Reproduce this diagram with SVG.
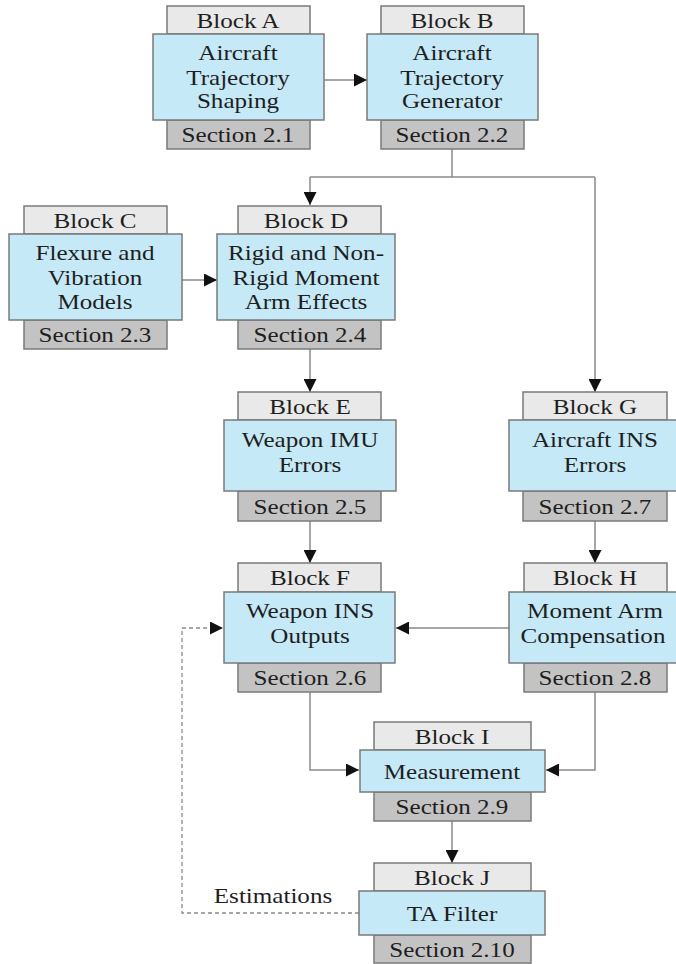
<svg xmlns="http://www.w3.org/2000/svg" width="676" height="964" viewBox="0 0 676 964">
<style>
.hd{fill:#e9e9e9;stroke:#7a7a7a;stroke-width:1.5}
.bl{fill:#c6e9f7;stroke:#7a7a7a;stroke-width:1.5}
.sc{fill:#c3c3c3;stroke:#7a7a7a;stroke-width:1.5}
text{font-family:"Liberation Serif","Times New Roman",serif;font-size:22px;fill:#1e1e1e;text-anchor:middle}
.ln{fill:none;stroke:#8a8a8a;stroke-width:1.5}
.ds{fill:none;stroke:#8a8a8a;stroke-width:1.3;stroke-dasharray:4,3}
</style>
<defs>
<marker id="ah" markerWidth="13" markerHeight="13" viewBox="0 0 13 13" refX="13" refY="6.5" orient="auto" markerUnits="userSpaceOnUse">
<path d="M0,0 L13,6.5 L0,13 Z" fill="#111"/>
</marker>
</defs>
<rect width="676" height="964" fill="#fff"/>
<g id="connectors">
<path class="ln" d="M324,80 H367" marker-end="url(#ah)"/>
<path class="ln" d="M452,149 V177 M310,177 H595"/>
<path class="ln" d="M310,177 V205" marker-end="url(#ah)"/>
<path class="ln" d="M595,177 V392" marker-end="url(#ah)"/>
<path class="ln" d="M182,280 H217" marker-end="url(#ah)"/>
<path class="ln" d="M310,349 V392" marker-end="url(#ah)"/>
<path class="ln" d="M310,521 V563" marker-end="url(#ah)"/>
<path class="ln" d="M595,521 V563" marker-end="url(#ah)"/>
<path class="ln" d="M509,628 H396" marker-end="url(#ah)"/>
<path class="ln" d="M310,692 V770 H359" marker-end="url(#ah)"/>
<path class="ln" d="M595,692 V770 H546" marker-end="url(#ah)"/>
<path class="ln" d="M452,821 V863" marker-end="url(#ah)"/>
<path class="ds" d="M359,913 H182 V628 H223" marker-end="url(#ah)"/>
<text transform="matrix(1.14 0 0 1 273 0)" y="903">Estimations</text>
</g>
<g id="blockA">
<rect class="hd" x="167" y="6" width="143" height="28"/>
<rect class="sc" x="167" y="120" width="143" height="29"/>
<rect class="bl" x="153" y="34" width="171" height="86"/>
<text transform="matrix(1.14 0 0 1 238 0)" y="28">Block A</text>
<text transform="matrix(1.14 0 0 1 238 0)" y="60">Aircraft</text>
<text transform="matrix(1.14 0 0 1 238 0)" y="85">Trajectory</text>
<text transform="matrix(1.14 0 0 1 238 0)" y="108">Shaping</text>
<text transform="matrix(1.14 0 0 1 238 0)" y="142">Section 2.1</text>
</g>
<g id="blockB">
<rect class="hd" x="381" y="6" width="143" height="28"/>
<rect class="sc" x="381" y="120" width="143" height="29"/>
<rect class="bl" x="367" y="34" width="171" height="86"/>
<text transform="matrix(1.14 0 0 1 452 0)" y="28">Block B</text>
<text transform="matrix(1.14 0 0 1 452 0)" y="60">Aircraft</text>
<text transform="matrix(1.14 0 0 1 452 0)" y="85">Trajectory</text>
<text transform="matrix(1.14 0 0 1 452 0)" y="108">Generator</text>
<text transform="matrix(1.14 0 0 1 452 0)" y="142">Section 2.2</text>
</g>
<g id="blockC">
<rect class="hd" x="24" y="206" width="143" height="28"/>
<rect class="sc" x="24" y="320" width="143" height="29"/>
<rect class="bl" x="9" y="234" width="173" height="86"/>
<text transform="matrix(1.14 0 0 1 95 0)" y="228">Block C</text>
<text transform="matrix(1.14 0 0 1 95 0)" y="260">Flexure and</text>
<text transform="matrix(1.14 0 0 1 95 0)" y="285">Vibration</text>
<text transform="matrix(1.14 0 0 1 95 0)" y="309">Models</text>
<text transform="matrix(1.14 0 0 1 95 0)" y="342">Section 2.3</text>
</g>
<g id="blockD">
<rect class="hd" x="238" y="206" width="143" height="28"/>
<rect class="sc" x="238" y="320" width="143" height="29"/>
<rect class="bl" x="217" y="234" width="178" height="86"/>
<text transform="matrix(1.14 0 0 1 306 0)" y="228">Block D</text>
<text transform="matrix(1.14 0 0 1 306 0)" y="260">Rigid and Non-</text>
<text transform="matrix(1.14 0 0 1 306 0)" y="285">Rigid Moment</text>
<text transform="matrix(1.14 0 0 1 306 0)" y="309">Arm Effects</text>
<text transform="matrix(1.14 0 0 1 310 0)" y="342">Section 2.4</text>
</g>
<g id="blockE">
<rect class="hd" x="238" y="392" width="143" height="28"/>
<rect class="sc" x="238" y="491" width="143" height="30"/>
<rect class="bl" x="224" y="420" width="172" height="71"/>
<text transform="matrix(1.14 0 0 1 310 0)" y="414">Block E</text>
<text transform="matrix(1.14 0 0 1 310 0)" y="447">Weapon IMU</text>
<text transform="matrix(1.14 0 0 1 310 0)" y="472">Errors</text>
<text transform="matrix(1.14 0 0 1 310 0)" y="514">Section 2.5</text>
</g>
<g id="blockG">
<rect class="hd" x="523" y="392" width="144" height="28"/>
<rect class="sc" x="523" y="491" width="144" height="30"/>
<rect class="bl" x="509" y="420" width="172" height="71"/>
<text transform="matrix(1.14 0 0 1 595 0)" y="414">Block G</text>
<text transform="matrix(1.14 0 0 1 595 0)" y="447">Aircraft INS</text>
<text transform="matrix(1.14 0 0 1 595 0)" y="472">Errors</text>
<text transform="matrix(1.14 0 0 1 595 0)" y="514">Section 2.7</text>
</g>
<g id="blockF">
<rect class="hd" x="238" y="563" width="143" height="29"/>
<rect class="sc" x="238" y="663" width="143" height="29"/>
<rect class="bl" x="224" y="592" width="171" height="71"/>
<text transform="matrix(1.14 0 0 1 310 0)" y="585">Block F</text>
<text transform="matrix(1.14 0 0 1 310 0)" y="618">Weapon INS</text>
<text transform="matrix(1.14 0 0 1 310 0)" y="643">Outputs</text>
<text transform="matrix(1.14 0 0 1 310 0)" y="685">Section 2.6</text>
</g>
<g id="blockH">
<rect class="hd" x="524" y="563" width="143" height="29"/>
<rect class="sc" x="524" y="663" width="143" height="29"/>
<rect class="bl" x="509" y="592" width="172" height="71"/>
<text transform="matrix(1.14 0 0 1 595 0)" y="585">Block H</text>
<text transform="matrix(1.14 0 0 1 595 0)" y="618">Moment Arm</text>
<text transform="matrix(1.14 0 0 1 593 0)" y="643">Compensation</text>
<text transform="matrix(1.14 0 0 1 595 0)" y="685">Section 2.8</text>
</g>
<g id="blockI">
<rect class="hd" x="374" y="722" width="157" height="28"/>
<rect class="sc" x="374" y="792" width="157" height="29"/>
<rect class="bl" x="360" y="750" width="185" height="42"/>
<text transform="matrix(1.14 0 0 1 452 0)" y="744">Block I</text>
<text transform="matrix(1.14 0 0 1 452 0)" y="779">Measurement</text>
<text transform="matrix(1.14 0 0 1 452 0)" y="814">Section 2.9</text>
</g>
<g id="blockJ">
<rect class="hd" x="374" y="863" width="157" height="28"/>
<rect class="sc" x="374" y="935" width="157" height="28"/>
<rect class="bl" x="359" y="891" width="186" height="44"/>
<text transform="matrix(1.14 0 0 1 452 0)" y="885">Block J</text>
<text transform="matrix(1.14 0 0 1 452 0)" y="921">TA Filter</text>
<text transform="matrix(1.14 0 0 1 452 0)" y="957">Section 2.10</text>
</g>
</svg>
